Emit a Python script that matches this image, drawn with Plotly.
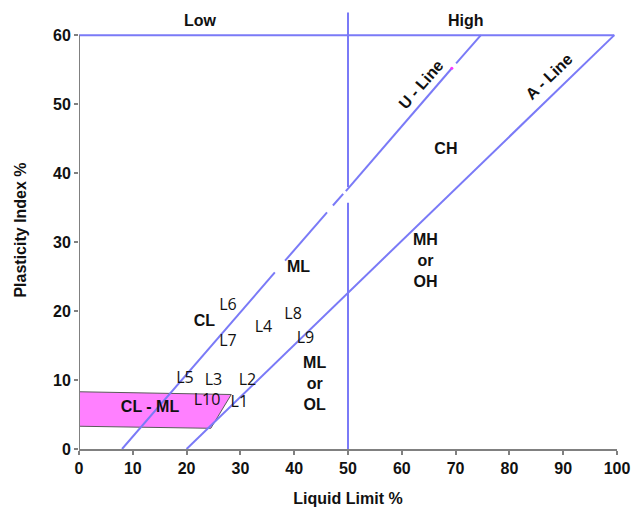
import plotly.graph_objects as go

# ---- data ----
x_ticks = [0, 10, 20, 30, 40, 50, 60, 70, 80, 90, 100]
y_ticks = [0, 10, 20, 30, 40, 50, 60]

# U-line (with small breaks as in the picture)
u_ll = [8, 36.4, None, 38.3, 46.1, None, 47.2, 49.1, None, 49.6, 69.3, None, 70.1, 74.7]
u_pi = [0, 25.6, None, 27.3, 34.3, None, 35.3, 37.0, None, 37.4, 55.2, None, 55.9, 60.0]

# A-line
a_ll = [20, 99.5]
a_pi = [0, 60]

# LL = 50 divider (broken near U-line crossing)
v_ll = [50, 50, None, 50, 50]
v_pi = [0, 35.7, None, 38.0, 63.3]

# PI = 60 top line
h_ll = [0, 99.5]
h_pi = [60, 60]

# CL-ML zone
clml_ll = [0, 28.3, 24.5, 0, 0]
clml_pi = [8.3, 7.9, 3.0, 3.3, 8.3]

# soil group labels
zone_text = ["CL - ML", "CL", "ML", "CH", "MH<br>or<br>OH", "ML<br>or<br>OL", "Low", "High"]
zone_ll = [13.2, 23.3, 40.8, 68.2, 64.4, 43.8, 22.5, 71.9]
zone_pi = [5.9, 18.4, 26.2, 43.3, 27.1, 9.3, 61.9, 61.9]

# sample labels
samp_text = ["L1", "L2", "L3", "L4", "L5", "L6", "L7", "L8", "L9", "L10"]
samp_ll = [29.8, 31.3, 25.0, 34.3, 19.7, 27.7, 27.7, 39.8, 42.1, 23.8]
samp_pi = [6.7, 9.8, 9.8, 17.5, 10.1, 20.8, 15.5, 19.4, 16.0, 6.9]

BLUE = "#7a7af7"
GRAY = "#808080"
BOLD = dict(family="Liberation Sans", size=16, color="#111111", weight="bold")

fig = go.Figure()

fig.add_trace(go.Scatter(x=clml_ll, y=clml_pi, fill="toself", fillcolor="#ff80ff",
                         mode="lines", line=dict(color="#5a5a5a", width=1),
                         hoverinfo="skip", showlegend=False))
for xs, ys in [(u_ll, u_pi), (a_ll, a_pi), (v_ll, v_pi), (h_ll, h_pi)]:
    fig.add_trace(go.Scatter(x=xs, y=ys, mode="lines", connectgaps=False,
                             line=dict(color=BLUE, width=2),
                             hoverinfo="skip", showlegend=False, cliponaxis=False))

fig.add_trace(go.Scatter(x=[69.3], y=[55.2], mode="markers",
                         marker=dict(color="#ff33ff", size=3),
                         hoverinfo="skip", showlegend=False))

fig.add_trace(go.Scatter(x=zone_ll, y=zone_pi, mode="text", text=zone_text,
                         textfont=BOLD,
                         hoverinfo="skip", showlegend=False, cliponaxis=False))

fig.add_trace(go.Scatter(x=samp_ll, y=samp_pi, mode="text", text=samp_text,
                         textfont=dict(family="Open Sans", size=16, color="#111111"),
                         hoverinfo="skip", showlegend=False, cliponaxis=False))

fig.add_annotation(x=63.6, y=52.8, text="U - Line", showarrow=False, textangle=-49,
                   font=BOLD)
fig.add_annotation(x=87.4, y=54.0, text="A - Line", showarrow=False, textangle=-44,
                   font=BOLD)

# y axis line only up to 60
fig.add_shape(type="line", xref="x", yref="y", x0=0, x1=0, y0=0, y1=60,
              line=dict(color=GRAY, width=2))

# the page body adds an 8px offset, so margins are set relative to that
fig.update_layout(
    width=643, height=514,
    margin=dict(l=71, r=34, t=3, b=73),
    plot_bgcolor="white", paper_bgcolor="white",
    font=dict(family="Liberation Sans", color="#111111"),
)
fig.update_xaxes(range=[0, 100], tickvals=x_ticks, ticktext=[str(v) for v in x_ticks],
                 automargin=False,
                 showgrid=False, zeroline=False, showline=True, linecolor=GRAY, linewidth=2,
                 ticks="outside", tickcolor=GRAY, ticklen=4, tickwidth=1.5,
                 tickfont=BOLD,
                 title=dict(text="Liquid Limit %", standoff=17, font=BOLD))
fig.update_yaxes(range=[0, 63.5], tickvals=y_ticks, ticktext=[str(v) for v in y_ticks],
                 automargin=False,
                 showgrid=False, zeroline=False, showline=False,
                 ticks="outside", tickcolor=GRAY, ticklen=4, tickwidth=1.5,
                 tickfont=BOLD,
                 title=dict(text="Plasticity Index %", standoff=22, font=BOLD))

fig.write_html("out.html")
